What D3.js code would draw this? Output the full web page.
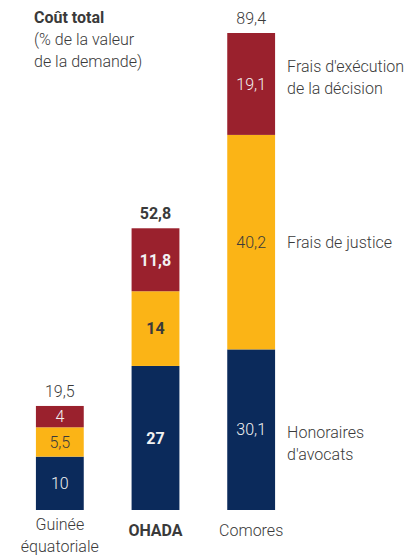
<!DOCTYPE html>
<html><head><meta charset="utf-8">
<script src="https://cdn.jsdelivr.net/npm/d3@7"></script>
<style>
html,body{margin:0;padding:0;background:#fff;}
text{font-family:Roboto,"Open Sans",sans-serif;}
</style></head>
<body><svg id="c" width="412" height="559"></svg>
<script>
// Coût total de l'exécution d'une décision, en % de la valeur de la demande
const categories = ["Guinée équatoriale", "OHADA", "Comores"];
const categoryLines = [["Guinée", "équatoriale"], ["OHADA"], ["Comores"]];
const seriesNames = ["Honoraires d'avocats", "Frais de justice", "Frais d'exécution de la décision"];
const honoraires = [10, 27, 30.1];
const fraisJustice = [5.5, 14, 40.2];
const fraisExecution = [4, 11.8, 19.1];
const totals = [19.5, 52.8, 89.4];
const colors = ["#0b2a5b", "#fbb416", "#9a212d"];
const legendLines = [["Honoraires", "d'avocats"], ["Frais de justice"], ["Frais d'exécution", "de la décision"]];
const legendShift = [8, 6, -12];

const svg = d3.select("#c");
const fmt = v => String(v).replace(".", ",");
const ink = "#3a3a3a";
const fs = 16;

const x = d3.scaleBand().domain(categories).range([12, 299]).paddingInner(0.5).paddingOuter(0.25);
const y = d3.scaleLinear().domain([0, 89.4]).range([510, 33]);

const rows = categories.map((c, i) => ({cat: c, h: honoraires[i], j: fraisJustice[i], e: fraisExecution[i]}));
const stack = d3.stack().keys(["h", "j", "e"])(rows);

const bold = c => c === "OHADA";

stack.forEach((layer, k) => {
  const g = svg.append("g");
  g.selectAll("rect").data(layer).join("rect")
    .attr("x", d => x(d.data.cat))
    .attr("width", x.bandwidth())
    .attr("y", d => y(d[1]))
    .attr("height", d => y(d[0]) - y(d[1]))
    .attr("fill", colors[k]);
  g.selectAll("text").data(layer).join("text")
    .attr("x", d => x(d.data.cat) + x.bandwidth() / 2)
    .attr("y", d => (y(d[0]) + y(d[1])) / 2)
    .attr("dy", "0.36em")
    .attr("text-anchor", "middle")
    .attr("font-size", fs)
    .attr("font-weight", d => bold(d.data.cat) ? "bold" : 300)
    .attr("fill", k === 1 ? ink : "#f2f2f2")
    .text(d => fmt(+(d[1] - d[0]).toFixed(1)));
});

// totals above bars
svg.append("g").selectAll("text").data(categories).join("text")
  .attr("x", c => x(c) + x.bandwidth() / 2)
  .attr("y", (c, i) => y(totals[i]) - 9)
  .attr("text-anchor", "middle")
  .attr("font-size", fs)
  .attr("font-weight", c => bold(c) ? "bold" : 300)
  .attr("fill", ink)
  .text((c, i) => fmt(totals[i]));

// category labels
categories.forEach((c, i) => {
  const cx = x(c) + x.bandwidth() / 2;
  const t = svg.append("text")
    .attr("x", cx)
    .attr("y", categoryLines[i].length > 1 ? 530 : 536)
    .attr("text-anchor", "middle")
    .attr("font-size", fs)
    .attr("font-weight", bold(c) ? "bold" : 300)
    .attr("fill", ink);
  categoryLines[i].forEach((ln, j) => t.append("tspan").attr("x", cx).attr("dy", j ? 22 : 0).text(ln));
});

// series labels beside the last bar
const last = stack.map(l => l[l.length - 1]);
const lx = x(categories[2]) + x.bandwidth() + 12;
last.forEach((d, k) => {
  const cy = (y(d[0]) + y(d[1])) / 2;
  const t = svg.append("text")
    .attr("x", lx)
    .attr("y", cy + legendShift[k])
    .attr("font-size", fs)
    .attr("font-weight", 300)
    .attr("fill", ink);
  legendLines[k].forEach((ln, j) => t.append("tspan").attr("x", lx).attr("dy", j ? 22 : 0).text(ln));
});

// title
const title = svg.append("g").attr("fill", ink).attr("font-size", fs);
title.append("text").attr("x", 34).attr("y", 23).attr("font-weight", "bold").text("Coût total");
title.append("text").attr("x", 34).attr("y", 45).attr("font-weight", 300).text("(% de la valeur");
title.append("text").attr("x", 34).attr("y", 67).attr("font-weight", 300).text("de la demande)");
</script></body></html>
